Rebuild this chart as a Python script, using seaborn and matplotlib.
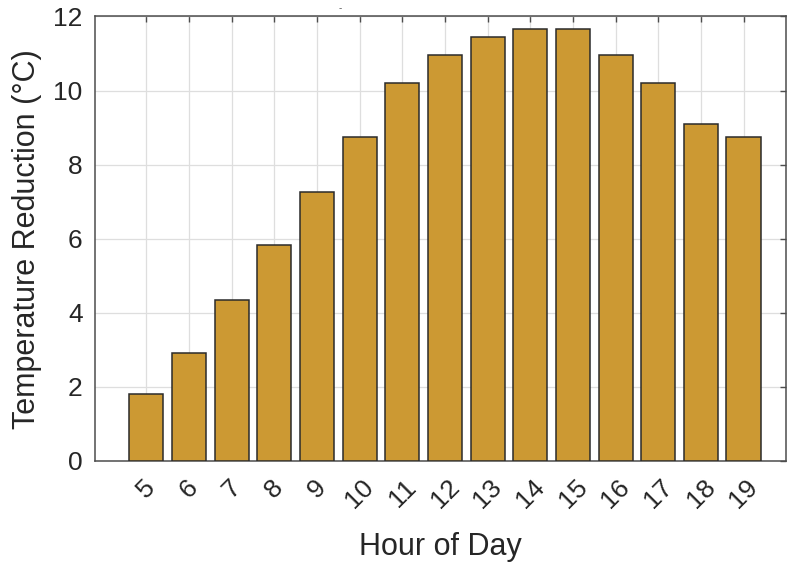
import matplotlib
matplotlib.use("Agg")
import matplotlib.pyplot as plt
import seaborn as sns

hours = [5, 6, 7, 8, 9, 10, 11, 12, 13, 14, 15, 16, 17, 18, 19]
reduction = [1.8, 2.92, 4.35, 5.83, 7.27, 8.75, 10.2, 10.95, 11.45, 11.67, 11.67, 10.95, 10.2, 9.1, 8.75]
y_ticks = [0, 2, 4, 6, 8, 10, 12]

sns.set_style("white")
plt.rcParams["font.family"] = ["Liberation Sans", "DejaVu Sans"]

fig = plt.figure(figsize=(7.87, 5.67), dpi=100)
ax = fig.add_axes([0.121, 0.187, 0.878, 0.784])

sns.barplot(x=hours, y=reduction, native_scale=True, width=0.8,
            color="#CC9933", saturation=1, edgecolor="#2b2b2b",
            linewidth=1.1, ax=ax, zorder=3)

ax.set_xlim(3.8, 20)
ax.set_ylim(0, 12)
ax.set_xticks(hours)
ax.set_xticklabels([str(h) for h in hours], rotation=45, ha="center")
ax.set_yticks(y_ticks)
ax.grid(True, color="#dedede", linewidth=0.9, zorder=0)
ax.set_axisbelow(True)

ax.tick_params(direction="in", top=True, right=True, length=4, width=1,
               color="#4d4d4d", labelsize=19, labelcolor="#262626")
ax.tick_params(axis="y", pad=9)
ax.tick_params(axis="x", pad=10)
for s in ax.spines.values():
    s.set_color("#4d4d4d")
    s.set_linewidth(1.1)

ax.set_xlabel("Hour of Day", fontsize=22, color="#262626", labelpad=14)
ax.set_ylabel("Temperature Reduction (°C)", fontsize=22, color="#262626", labelpad=8)

fig.text(0.432, 0.985, "-", fontsize=7, color="#555555", ha="center", va="center")

fig.savefig("out.png", dpi=100)
